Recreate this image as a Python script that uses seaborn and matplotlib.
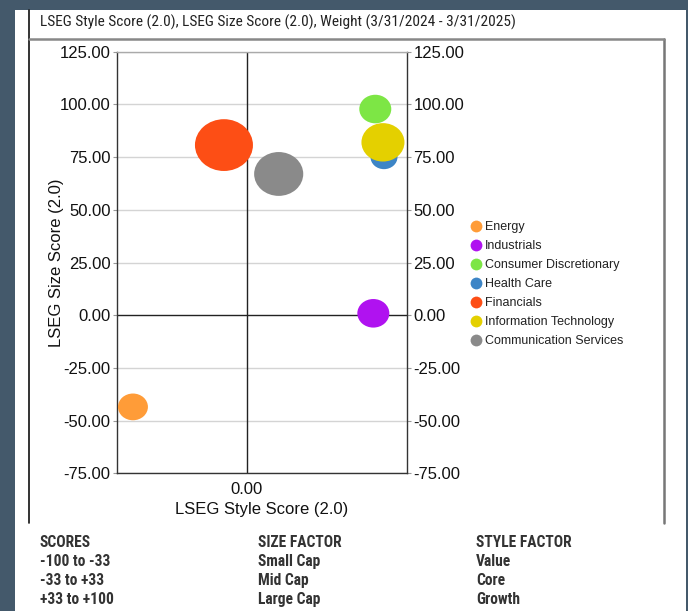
import matplotlib
matplotlib.use("Agg")
import matplotlib.pyplot as plt
import seaborn as sns
import pandas as pd
from matplotlib.path import Path
from matplotlib.transforms import Affine2D
from matplotlib.markers import MarkerStyle
from matplotlib.lines import Line2D
from matplotlib.patches import Rectangle

# ---- data ----
sectors = ["Energy", "Industrials", "Consumer Discretionary", "Health Care",
           "Financials", "Information Technology", "Communication Services"]
style_score = [-87.5, 97.4, 98.9, 105.6, -17.5, 104.8, 24.6]
size_score = [-43.5, 0.9, 97.8, 75.0, 80.7, 82.0, 67.0]
weight = [6.4, 7.3, 7.3, 5.2, 24.0, 13.2, 17.2]
colors = ["#ff9c38", "#b012f0", "#7de645", "#3d85c6", "#fd4e15", "#e4d000", "#8a8a8a"]
y_ticks = [-75, -50, -25, 0, 25, 50, 75, 100, 125]
x_ticks = [0]
title = "LSEG Style Score (2.0), LSEG Size Score (2.0), Weight (3/31/2024 - 3/31/2025)"
table_cols = [["SCORES", "-100 to -33", "-33 to +33", "+33 to +100"],
              ["SIZE FACTOR", "Small Cap", "Mid Cap", "Large Cap"],
              ["STYLE FACTOR", "Value", "Core", "Growth"]]

df = pd.DataFrame({"sector": sectors, "style": style_score,
                   "size": size_score, "weight": weight})

sns.set_theme(style="white")
plt.rcParams["font.family"] = ["Liberation Sans", "DejaVu Sans"]
COND = ["Roboto Condensed", "Liberation Sans", "DejaVu Sans"]

W, H = 688, 611
fig = plt.figure(figsize=(W / 100, H / 100), dpi=100)
fig.patch.set_facecolor("#44596b")
fig.patches.append(Rectangle((15 / W, 0), (686 - 15) / W, 1 - 10 / H,
                             transform=fig.transFigure, facecolor="white",
                             edgecolor="none", zorder=-5))

def fx(px):
    return px / W

def fy(py):
    return 1 - py / H

# frame lines
fig.add_artist(Line2D([fx(29), fx(29)], [fy(10), fy(523)], color="#111111", lw=1.2))
fig.add_artist(Line2D([fx(664), fx(664)], [fy(39), fy(523)], color="#777777", lw=1.8))
fig.add_artist(Line2D([fx(29), fx(664)], [fy(39), fy(39)], color="#888888", lw=1.8))

fig.text(fx(40), fy(22), title, fontsize=11.1, family=COND,
         va="center", ha="left", color="#222222")

ax = fig.add_axes([fx(116.7), fy(473.3), (407 - 116.7) / W, (473.3 - 51.7) / H])
ax.set_zorder(2)
ax.set_facecolor("white")

ell = Affine2D().scale(1.12, 1.0).transform_path(Path.unit_circle())
k = 72.7
sns.scatterplot(data=df, x="style", y="size", hue="sector", palette=colors,
                size="weight", sizes=(k * min(weight), k * max(weight)),
                size_norm=(min(weight), max(weight)),
                marker=MarkerStyle(ell), linewidth=0, alpha=1, legend=False,
                ax=ax, zorder=5)

ax.set_xlim(-100, 123.3)
ax.set_ylim(-75, 125)
ax.set_yticks(y_ticks)
ax.set_yticklabels([f"{v:.2f}" for v in y_ticks])
ax.set_xticks(x_ticks)
ax.set_xticklabels([f"{v:.2f}" for v in x_ticks])
ax.tick_params(axis="y", which="both", left=True, right=True, labelleft=True,
               labelright=True, length=3, width=0.8, color="#999999",
               labelsize=12, labelcolor="#111111", pad=1.5)
ax.tick_params(axis="x", length=0, labelsize=12, labelcolor="#111111", pad=6)

for v in y_ticks:
    if v != 0:
        ax.axhline(v, color="#d4d4d4", lw=1, zorder=1)
ax.axhline(0, color="#222222", lw=1, zorder=2)
ax.axvline(0, color="#222222", lw=1, zorder=2)

for s in ["left", "right", "bottom"]:
    ax.spines[s].set_color("#333333")
    ax.spines[s].set_linewidth(1)
ax.spines["top"].set_color("#aaaaaa")
ax.spines["top"].set_linewidth(1)

ax.set_xlabel("LSEG Style Score (2.0)", fontsize=12, color="#111111", labelpad=4)
ax.set_ylabel("LSEG Size Score (2.0)", fontsize=12, color="#111111")
ax.yaxis.set_label_coords((64 - 116.7) / 290.3, 0.5)

handles = [Line2D([0], [0], marker="o", linestyle="none", markersize=8.5,
                  markerfacecolor=c, markeredgecolor="none") for c in colors]
leg = ax.legend(handles, sectors, loc="upper left",
                bbox_to_anchor=(fx(470), fy(221)), bbox_transform=fig.transFigure,
                frameon=False, fontsize=9, handlelength=0.9, handletextpad=0.3,
                labelspacing=0.56, borderaxespad=0, borderpad=0)
for t in leg.get_texts():
    t.set_color("#222222")

col_x = [40, 258, 476]
row_base = [547, 566, 585, 604]
for cx, col in zip(col_x, table_cols):
    for ry, txt in zip(row_base, col):
        fig.text(fx(cx), fy(ry), txt, fontsize=11.2, fontweight="bold", family=COND,
                 va="baseline", ha="left", color="#333333")

fig.savefig("out.png", dpi=100, facecolor=fig.get_facecolor())
